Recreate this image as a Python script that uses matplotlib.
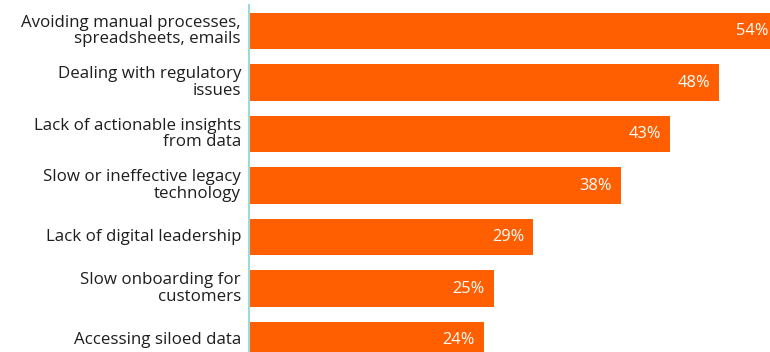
import matplotlib.pyplot as plt
from matplotlib import transforms

categories = ["Avoiding manual processes,\nspreadsheets, emails",
              "Dealing with regulatory\nissues",
              "Lack of actionable insights\nfrom data",
              "Slow or ineffective legacy\ntechnology",
              "Lack of digital leadership",
              "Slow onboarding for\ncustomers",
              "Accessing siloed data"]
values = [54, 48, 43, 38, 29, 25, 24]

bar_color = "#FF5F00"
text_color = "#1E1E1E"
axis_color = "#9ED9D4"

plt.rcParams['font.family'] = ['Open Sans', 'DejaVu Sans']

fig = plt.figure(figsize=(7.7, 3.52), dpi=100)
# axes runs past the right and bottom edges, like the original crop
ax = fig.add_axes([249/770, 1 - 365.75/352, 1 - 249/770, 360.5/352])

y = list(range(len(values)))
ax.barh(y, values, height=0.70, color=bar_color)
ax.set_ylim(len(values) - 0.5, -0.5)
ax.set_xlim(0, 53.2)

for s in ['top', 'right', 'bottom']:
    ax.spines[s].set_visible(False)
ax.spines['left'].set_color(axis_color)
ax.spines['left'].set_linewidth(1.5)
ax.set_xticks([])
ax.set_yticks([])

lab_off = transforms.offset_copy(ax.transData, fig=fig, x=-8, y=0, units='dots')
val_off = transforms.offset_copy(ax.transData, fig=fig, x=-9, y=0, units='dots')
for yi, cat, v in zip(y, categories, values):
    ax.text(0, yi, cat, transform=lab_off, ha='right', va='center',
            fontsize=12.2, color=text_color, linespacing=1.05, clip_on=False)
    ax.text(v, yi, f"{v}%", transform=val_off, ha='right', va='center',
            fontsize=11.8, color='white', clip_on=False)

fig.savefig("out.png", dpi=100)
